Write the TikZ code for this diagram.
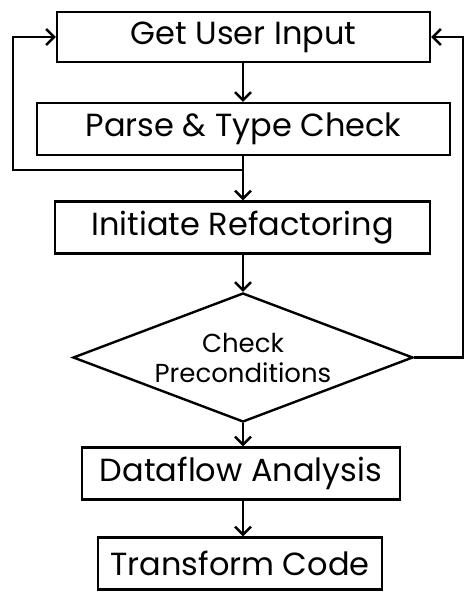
\documentclass[tikz,border=0pt]{standalone}
\usepackage{fontspec}
\setmainfont{Poppins}
\usetikzlibrary{arrows.meta,positioning,shapes.geometric}

\begin{document}
\begin{tikzpicture}[x=1pt,y=-1pt,line width=2.4pt,
  every node/.style={font=\fontsize{32}{36}\selectfont},
  stepbox/.style={draw,rectangle,inner sep=0pt,minimum height=52pt},
  flow/.style={-{Straight Barb[length=8pt,width=16pt,line width=2.4pt]}}]
\useasboundingbox (0,0) rectangle (466,596);
\node[stepbox,minimum width=373pt,minimum height=50pt] (input) at (243.5,37) {Get User Input};
\node[stepbox,minimum width=413pt] (parse) at (243.5,129) {Parse \& Type Check};
\node[stepbox,minimum width=375pt] (init) at (242.5,227.5) {Initiate Refactoring};
\node[draw,diamond,aspect=2.64,inner sep=0pt,minimum width=340pt,minimum height=129pt,align=center,
  font=\fontsize{26}{30}\selectfont] (check) at (243,357.5) {Check\\Preconditions};
\node[stepbox,minimum width=318pt] (dataflow) at (241,473.5) {Dataflow Analysis};
\node[stepbox,minimum width=284pt] (transform) at (240,563.5) {Transform Code};
\coordinate (split) at (243,170);
\draw[flow] (input.south -| split) -- (parse.north -| split);
\draw (parse.south -| split) -- (split);
\draw[flow] (split) -- (init.north -| split);
\draw[flow] (split) -- (13,170) |- (input.west);
\draw[flow] (init.south -| check.north) -- (check.north);
\draw[flow] (check.east) -- (463,357.5) |- (input.east);
\draw[flow] (check.south) -- (dataflow.north -| check.south);
\draw[flow] (dataflow.south -| check.south) -- (transform.north -| check.south);
\end{tikzpicture}
\end{document}
